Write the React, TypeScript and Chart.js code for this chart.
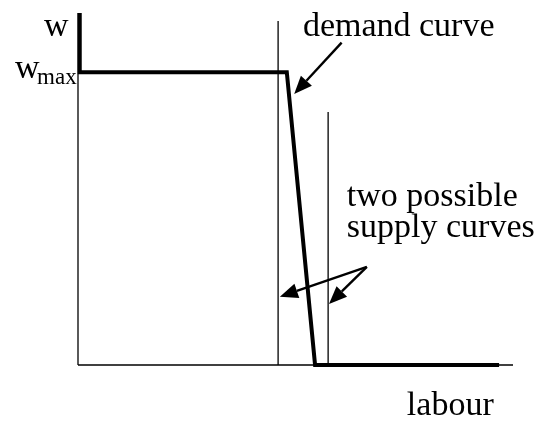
import React, { useEffect, useRef } from "react";
import { Chart, registerables } from "chart.js";

Chart.register(...registerables);

// Data (labour on x, wage on y, abstract units 0..100)
const demandLabour = [0.4, 0.4, 48, 54.5, 96.8];
const demandWage = [100, 83.2, 83.2, 0, 0];
const supplyALabour = [46.0, 46.0];
const supplyAWage = [0, 97.7];
const supplyBLabour = [57.5, 57.5];
const supplyBWage = [0, 71.9];
const axisXLabour = [0, 100];
const axisXWage = [0, 0];
const axisYLabour = [0, 0];
const axisYWage = [0, 100];

const FONT = '"Liberation Serif", "Times New Roman", serif';

const labels = [
  { text: "w", x: -7.8, y: 93.5, size: 34 },
  { text: "w", x: -14.5, y: 81.5, size: 34 },
  { text: "max", x: -9.4, y: 79.9, size: 23 },
  { text: "demand curve", x: 51.7, y: 93.5, size: 34 },
  { text: "two possible", x: 61.8, y: 45.2, size: 34 },
  { text: "supply curves", x: 61.8, y: 36.4, size: 34 },
  { text: "labour", x: 75.6, y: -14.2, size: 34 },
];

const arrows = [
  { from: [60.6, 91.6], to: [49.7, 77.0] },
  { from: [66.4, 27.9], to: [46.4, 19.4] },
  { from: [66.4, 27.9], to: [57.7, 17.3] },
];

const zip = (xs: number[], ys: number[]) => xs.map((x, i) => ({ x, y: ys[i] }));

const annotationPlugin = {
  id: "annotations",
  afterDatasetsDraw(chart: any) {
    const ctx = chart.ctx;
    const xs = chart.scales.x;
    const ys = chart.scales.y;
    ctx.save();
    ctx.fillStyle = "#000";
    ctx.strokeStyle = "#000";
    ctx.textBaseline = "alphabetic";
    ctx.textAlign = "left";
    for (const l of labels) {
      ctx.font = `${l.size}px ${FONT}`;
      ctx.fillText(l.text, xs.getPixelForValue(l.x), ys.getPixelForValue(l.y));
    }
    for (const a of arrows) {
      const x0 = xs.getPixelForValue(a.from[0]);
      const y0 = ys.getPixelForValue(a.from[1]);
      const x1 = xs.getPixelForValue(a.to[0]);
      const y1 = ys.getPixelForValue(a.to[1]);
      const ang = Math.atan2(y1 - y0, x1 - x0);
      const headLen = 18;
      const headW = 7.5;
      const bx = x1 - headLen * Math.cos(ang);
      const by = y1 - headLen * Math.sin(ang);
      ctx.lineWidth = 2.4;
      ctx.beginPath();
      ctx.moveTo(x0, y0);
      ctx.lineTo(bx, by);
      ctx.stroke();
      ctx.beginPath();
      ctx.moveTo(x1, y1);
      ctx.lineTo(bx + headW * Math.sin(ang), by - headW * Math.cos(ang));
      ctx.lineTo(bx - headW * Math.sin(ang), by + headW * Math.cos(ang));
      ctx.closePath();
      ctx.fill();
    }
    ctx.restore();
  },
};

export default function App() {
  const ref = useRef<HTMLCanvasElement | null>(null);
  useEffect(() => {
    if (!ref.current) return;
    const line = (data: any[], width: number) => ({
      data,
      showLine: true,
      borderColor: "#000",
      backgroundColor: "#000",
      borderWidth: width,
      pointRadius: 0,
      fill: false,
      tension: 0,
      clip: false as any,
      borderJoinStyle: "miter" as const,
    });
    const chart = new Chart(ref.current, {
      type: "scatter",
      data: {
        datasets: [
          line(zip(axisXLabour, axisXWage), 1.3),
          line(zip(axisYLabour, axisYWage), 1.3),
          line(zip(supplyALabour, supplyAWage), 1.3),
          line(zip(supplyBLabour, supplyBWage), 1.3),
          line(zip(demandLabour, demandWage), 4),
        ],
      },
      options: {
        animation: false,
        responsive: false,
        events: [],
        layout: { padding: { left: 78, right: 29, top: 13, bottom: 58 } },
        plugins: { legend: { display: false }, tooltip: { enabled: false } },
        scales: {
          x: { type: "linear", min: 0, max: 100, display: false },
          y: { type: "linear", min: 0, max: 100, display: false },
        },
      },
      plugins: [annotationPlugin],
    });
    return () => chart.destroy();
  }, []);
  return (
    <div style={{ position: "fixed", left: 0, top: 0, width: 542, height: 423, background: "#fff" }}>
      <canvas ref={ref} width={542} height={423} style={{ display: "block" }} />
    </div>
  );
}
